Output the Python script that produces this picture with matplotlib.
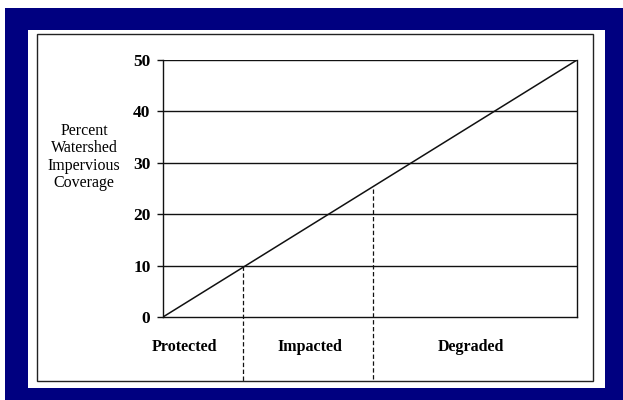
"""
plot.py - impervious cover model: watershed stream quality vs impervious coverage.
"""
import matplotlib
matplotlib.use("Agg")
import matplotlib.pyplot as plt
from matplotlib.patches import Rectangle
from matplotlib.transforms import blended_transform_factory

# Impervious cover line (x = relative position along watershed gradient)
line_x = [0, 100]
line_y = [0, 50]

# Thresholds between stream categories (percent impervious coverage)
threshold_x = [19.3, 50.7]
threshold_y = [10, 25]

categories = ["Protected", "Impacted", "Degraded"]
category_x = [5.3, 35.5, 74.4]
yticks = [0, 10, 20, 30, 40, 50]

NAVY = "#000080"
SERIF = ["Liberation Serif", "DejaVu Serif"]

fig = plt.figure(figsize=(6.23, 4.0), dpi=100)
fig.patch.set_facecolor("white")

# navy frame, white panel, thin black border (pixel boxes from the top-left)
def fig_box(x0, y0, x1, y1, **kw):
    return Rectangle((x0 / 623, 1 - y1 / 400), (x1 - x0) / 623, (y1 - y0) / 400,
                     transform=fig.transFigure, **kw)

fig.add_artist(fig_box(5, 8, 623, 400, facecolor=NAVY, edgecolor="none", zorder=-3))
fig.add_artist(fig_box(28, 30, 605, 388, facecolor="white", edgecolor="none", zorder=-2))
fig.add_artist(fig_box(37, 33.5, 593, 381, facecolor="none", edgecolor="#222222",
                       linewidth=1.0, zorder=-1))

ax = fig.add_axes([163 / 623, 83 / 400, 414 / 623, 257 / 400])
ax.set_facecolor("none")
ax.set_xlim(line_x[0], line_x[-1])
ax.set_ylim(yticks[0], yticks[-1])

for yv in yticks[1:]:
    ax.axhline(yv, color="#111111", linewidth=1.0, zorder=1)

ax.plot(line_x, line_y, color="#111111", linewidth=1.1, zorder=2)

# dashed dividers run from the line down to the panel border
ymin, ymax = ax.get_ylim()
y_bottom = ymin - 0.25 * (ymax - ymin)
for tx, ty in zip(threshold_x, threshold_y):
    ax.plot([tx, tx], [ty, y_bottom], color="#111111", linewidth=0.9,
            linestyle=(0, (3.5, 2)), clip_on=False, zorder=2)

for side in ["left", "bottom", "right"]:
    ax.spines[side].set_linewidth(1.0)
    ax.spines[side].set_color("#111111")
ax.spines["top"].set_visible(False)

ax.set_xticks([])
ax.set_yticks(yticks)
ax.set_yticklabels([str(v) for v in yticks], fontfamily=SERIF,
                   fontweight="bold", fontsize=12.5)
ax.tick_params(axis="y", length=4, width=1.0, pad=5, color="#111111")

# category labels below the axis
trans = blended_transform_factory(ax.transData, ax.transAxes)
for cx, name in zip(category_x, categories):
    ax.text(cx, -0.115, name, transform=trans, ha="center", va="center",
            fontfamily=SERIF, fontweight="bold", fontsize=11.5)

fig.text(84 / 623, 243 / 400, "Percent\nWatershed\nImpervious\nCoverage",
         ha="center", va="center", fontfamily=SERIF, fontsize=11.5,
         linespacing=1.12)

fig.savefig("out.png", dpi=100)
